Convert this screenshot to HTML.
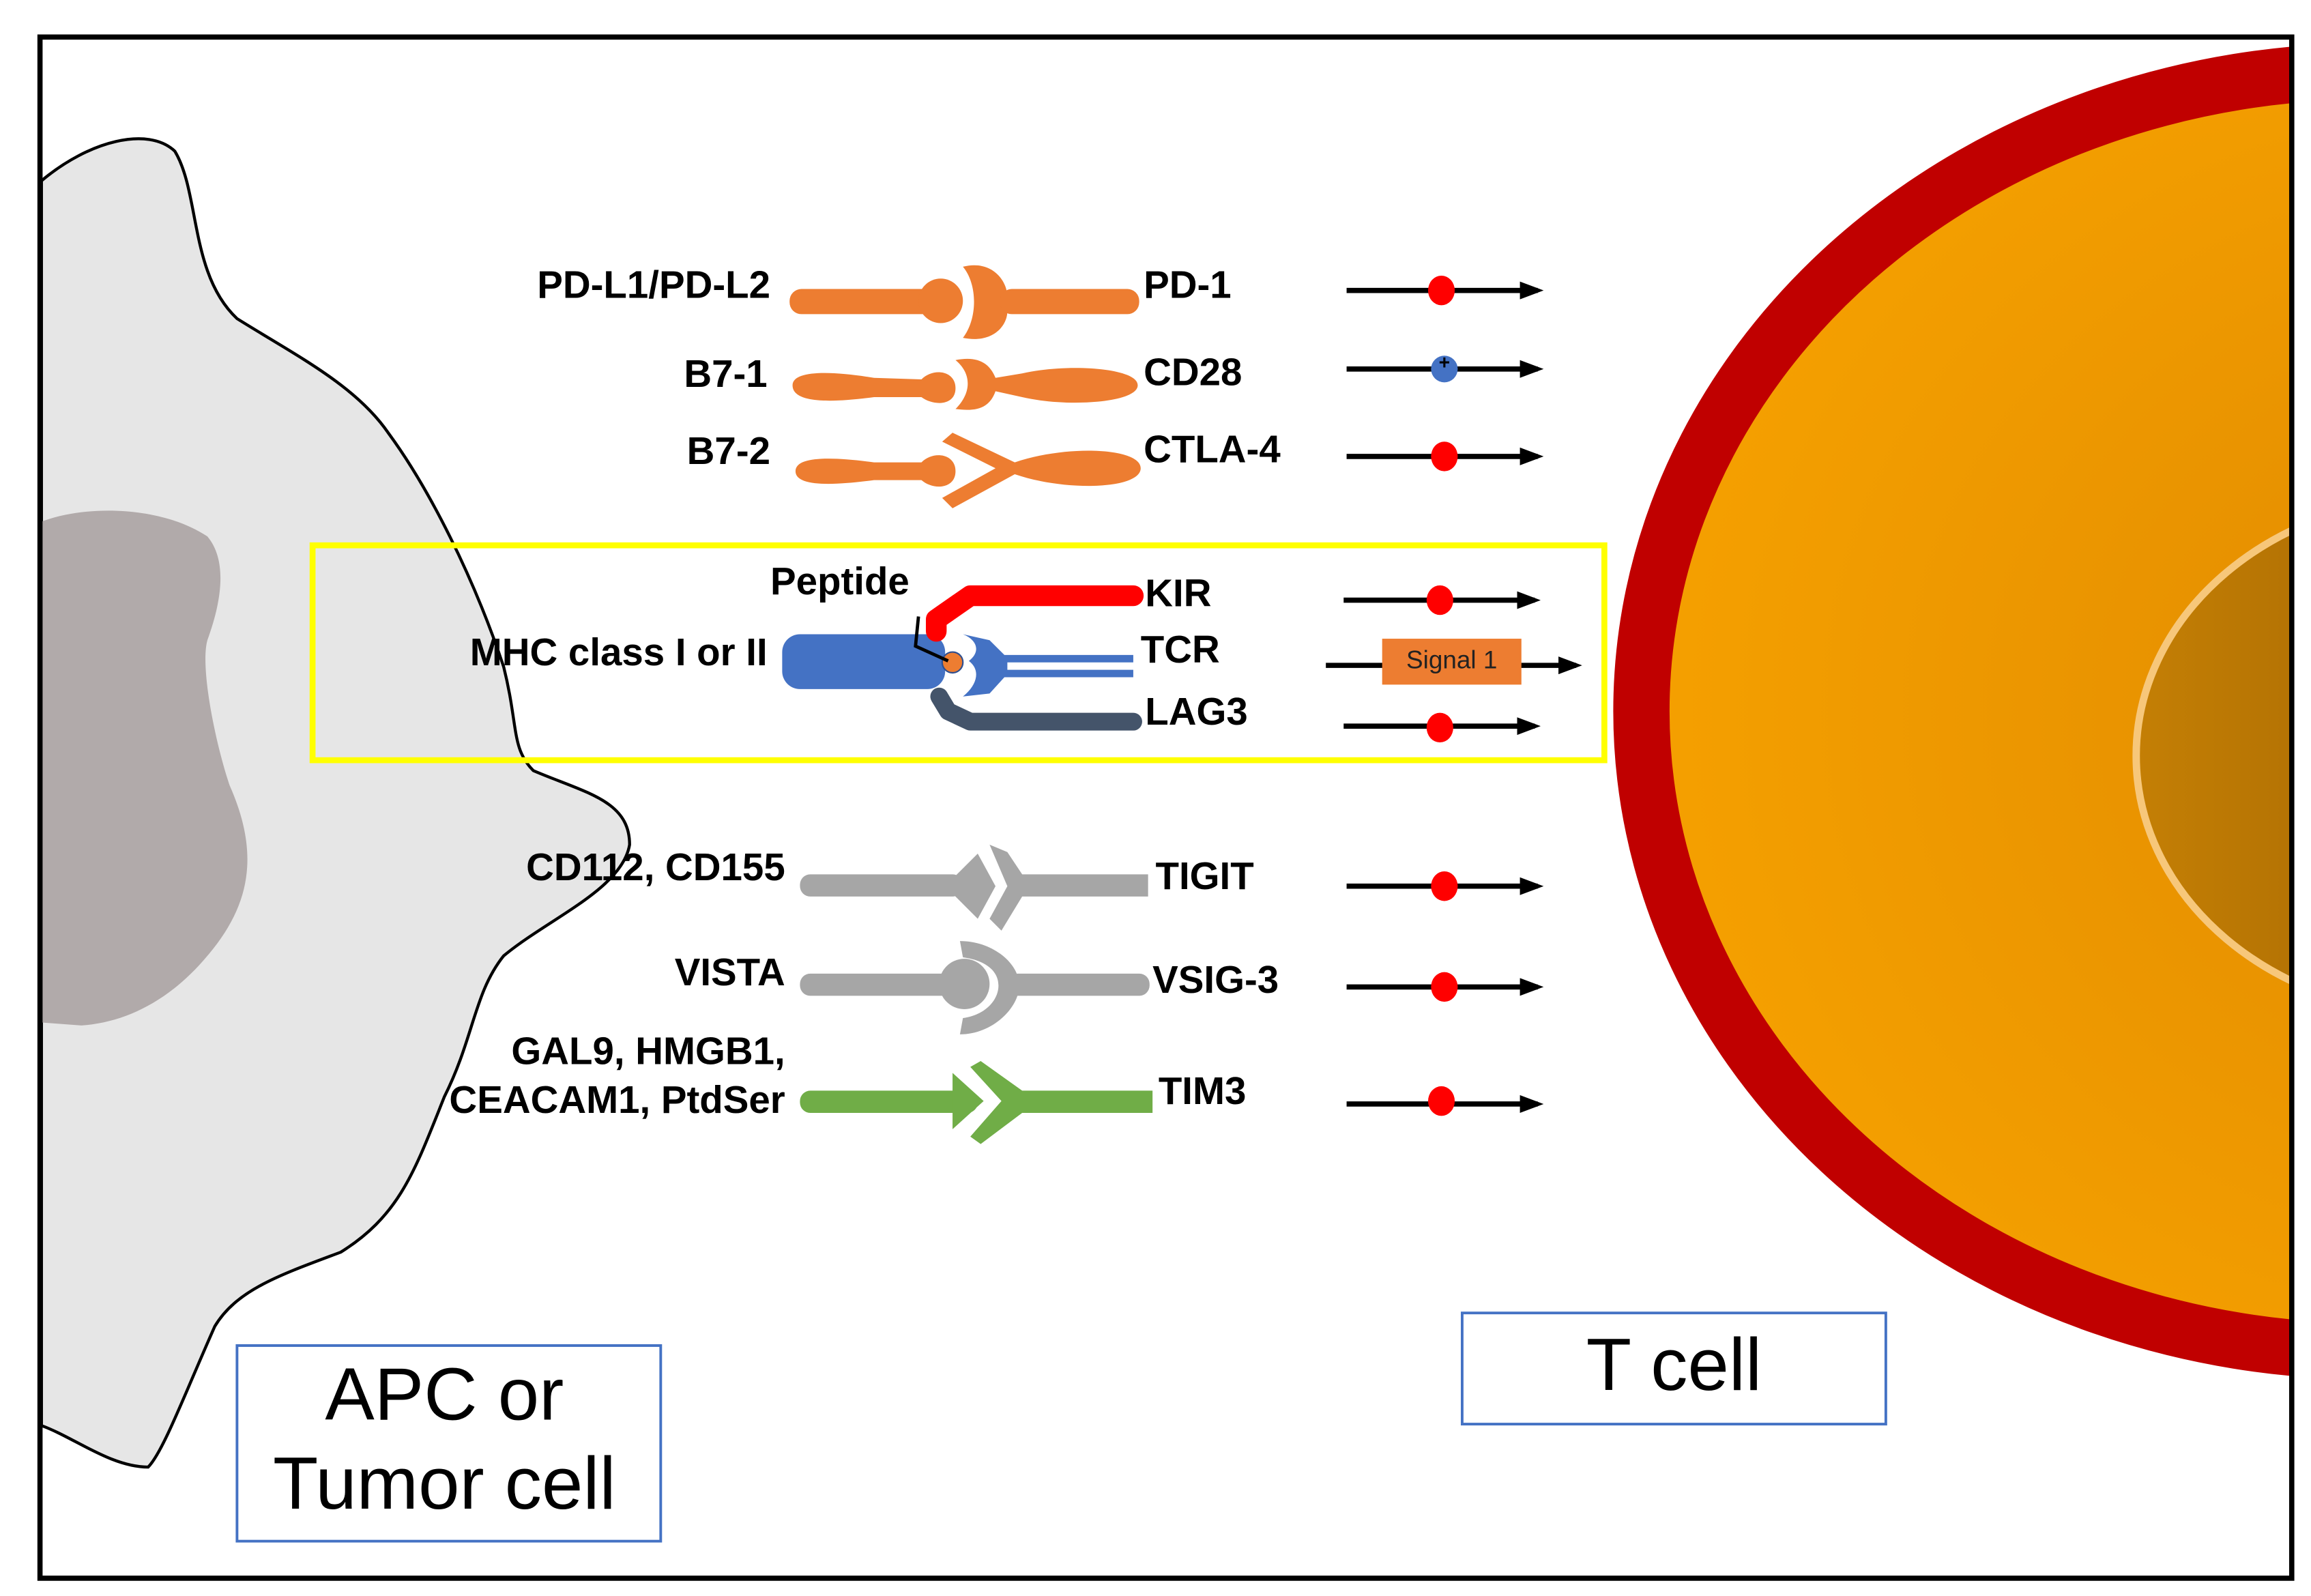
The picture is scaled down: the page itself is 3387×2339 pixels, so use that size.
<!DOCTYPE html>
<html><head><meta charset="utf-8"><style>
html,body{margin:0;padding:0;background:#fff;}
svg{display:block;}
text{font-family:"Liberation Sans",Arial,sans-serif;}
.l{font-weight:bold;font-size:26px;fill:#000;}
</style></head><body>
<svg width="3387" height="2339" viewBox="0 0 1560 1077" preserveAspectRatio="none" xmlns="http://www.w3.org/2000/svg">
<defs>
<radialGradient id="tg" cx="0.6" cy="0.5" r="0.6"><stop offset="0" stop-color="#e08a00"/><stop offset="1" stop-color="#f5a000"/></radialGradient>
<linearGradient id="ng" x1="0" x2="1"><stop offset="0" stop-color="#c47f05"/><stop offset="1" stop-color="#8a5200"/></linearGradient>
<clipPath id="fc"><rect x="27" y="25" width="1520" height="1040"/></clipPath>
<marker id="ah" markerWidth="16" markerHeight="12" refX="12" refY="6" orient="auto" markerUnits="userSpaceOnUse"><path d="M0,0 L16,6 L0,12 Z" fill="#000"/></marker>
</defs>
<rect width="1560" height="1077" fill="#fff"/>
<g clip-path="url(#fc)">
<path d="M28,122 C60,95 100,85 118,102 C135,130 128,185 160,215 C200,240 240,260 262,292 C290,330 320,390 340,450 C350,490 345,505 360,520 C395,535 425,540 425,570 C420,600 370,620 340,645 C320,670 320,700 300,740 C280,790 270,820 230,845 C190,860 160,870 145,895 C125,940 110,980 100,990 C75,990 50,970 28,962 Z" fill="#e6e6e6" stroke="#000" stroke-width="2"/>
<path d="M28,352 C60,340 110,342 140,362 C155,380 148,410 140,432 C135,450 145,500 155,530 C175,575 170,610 140,645 C115,675 85,690 55,692 L28,690 Z" fill="#b1aaaa"/>
<ellipse cx="1600" cy="480" rx="492" ry="432" fill="url(#tg)" stroke="#c00000" stroke-width="38"/>
<ellipse cx="1650" cy="510" rx="208" ry="175" fill="url(#ng)" stroke="#f7c77a" stroke-width="5"/>
</g>
<rect x="27" y="25" width="1520" height="1040" fill="none" stroke="#000" stroke-width="3.5"/>
<rect x="211" y="368" width="872" height="145" fill="none" stroke="#ffff00" stroke-width="4"/>

<g fill="#ed7d31" stroke="none">
<rect x="533" y="195" width="110" height="17" rx="8"/>
<circle cx="635" cy="203" r="15"/>
<path d="M650,180 C670,175 680,190 680,200 L680,210 C680,220 670,232 650,228 C660,215 660,192 650,180 Z"/>
<rect x="675" y="195" width="94" height="17" rx="8"/>
<path d="M535,260 C535,250 560,250 590,255 L622,256 C630,248 645,250 645,262 C645,274 630,274 622,268 L590,268 C560,272 535,272 535,260 Z"/>
<path d="M645,243 C660,240 668,245 672,255 L690,252 C720,245 768,248 768,260 C768,272 720,275 690,268 L672,264 C668,275 660,278 645,276 C656,265 656,252 645,243 Z"/>
<path d="M537,318 C537,308 560,308 590,312 L622,312 C630,304 645,306 645,318 C645,330 630,331 622,324 L590,324 C560,328 537,328 537,318 Z"/>
<path d="M636,298 L643,292 L685,312 C720,300 770,302 770,316 C770,330 720,332 685,320 L643,343 L636,336 L672,316 Z"/>
</g>
<rect x="528" y="428" width="110" height="37" rx="12" fill="#4472c4"/>
<path d="M650,428 L668,432 L678,442 L765,442 L765,447 L680,447 L680,452 L765,452 L765,457 L678,457 L668,468 L650,470 C660,462 662,452 654,446 C662,440 660,432 650,428 Z" fill="#4472c4"/>
<circle cx="643" cy="447" r="7" fill="#ed7d31" stroke="#2f4f8f" stroke-width="1"/>
<path d="M632,426 L632,418 L655,402 L765,402" fill="none" stroke="#ff0000" stroke-width="14" stroke-linecap="round" stroke-linejoin="round"/>
<path d="M634,470 L640,480 L655,487 L765,487" fill="none" stroke="#44546a" stroke-width="12" stroke-linecap="round" stroke-linejoin="round"/>
<path d="M620,416 L618,436 L640,446" fill="none" stroke="#000" stroke-width="2.2"/>

<g fill="#a6a6a6">
<rect x="540" y="590" width="110" height="15" rx="7"/>
<path d="M638,598 L660,576 L672,598 L660,620 Z"/>
<path d="M668,570 L680,575 L690,590 L775,590 L775,605 L690,605 L676,628 L668,620 L680,598 Z"/>
<rect x="540" y="657" width="110" height="15" rx="7"/>
<circle cx="651" cy="664" r="17"/>
<path d="M648,635 C670,635 688,650 688,665 C688,680 670,698 648,698 L650,687 C665,685 674,675 674,665 C674,655 665,648 650,646 Z"/>
<rect x="680" y="657" width="96" height="15" rx="7"/>
</g>
<g fill="#70ad47">
<rect x="540" y="736" width="120" height="15" rx="7"/>
<path d="M643,724 L664,743 L643,762 Z"/>
<path d="M655,720 L662,716 L690,736 L778,736 L778,751 L690,751 L662,772 L655,767 L676,743 Z"/>
</g>

<g stroke="#000" stroke-width="3.5" fill="none" marker-end="url(#ah)">
<line x1="909" y1="196" x2="1038" y2="196"/>
<line x1="909" y1="249" x2="1038" y2="249"/>
<line x1="909" y1="308" x2="1038" y2="308"/>
<line x1="907" y1="405" x2="1036" y2="405"/>
<line x1="895" y1="449" x2="1064" y2="449"/>
<line x1="907" y1="490" x2="1036" y2="490"/>
<line x1="909" y1="598" x2="1038" y2="598"/>
<line x1="909" y1="666" x2="1038" y2="666"/>
<line x1="909" y1="745" x2="1038" y2="745"/>
</g>
<g fill="#ff0000">
<ellipse cx="973" cy="196" rx="9" ry="10"/>
<ellipse cx="975" cy="308" rx="9" ry="10"/>
<ellipse cx="972" cy="405" rx="9" ry="10"/>
<ellipse cx="972" cy="491" rx="9" ry="10"/>
<ellipse cx="975" cy="598" rx="9" ry="10"/>
<ellipse cx="975" cy="666" rx="9" ry="10"/>
<ellipse cx="973" cy="743" rx="9" ry="10"/>
</g>
<ellipse cx="975" cy="249" rx="9" ry="9" fill="#4472c4"/>
<text x="975" y="249" font-size="13" font-weight="bold" text-anchor="middle">+</text>
<rect x="933" y="431" width="94" height="31" fill="#ed7d31"/>
<text x="980" y="451" font-size="17" text-anchor="middle" fill="#222">Signal  1</text>

<g class="l">
<text class="l" x="520" y="201" text-anchor="end">PD-L1/PD-L2</text>
<text class="l" x="518" y="261" text-anchor="end">B7-1</text>
<text class="l" x="520" y="313" text-anchor="end">B7-2</text>
<text class="l" x="772" y="201">PD-1</text>
<text class="l" x="772" y="260">CD28</text>
<text class="l" x="772" y="312">CTLA-4</text>
<text class="l" x="520" y="401">Peptide</text>
<text class="l" x="518" y="449" text-anchor="end">MHC class I or II</text>
<text class="l" x="773" y="409">KIR</text>
<text class="l" x="770" y="447">TCR</text>
<text class="l" x="773" y="489">LAG3</text>
<text class="l" x="530" y="594" text-anchor="end">CD112, CD155</text>
<text class="l" x="530" y="665" text-anchor="end">VISTA</text>
<text class="l" x="530" y="718" text-anchor="end">GAL9, HMGB1,</text>
<text class="l" x="530" y="751" text-anchor="end">CEACAM1, PtdSer</text>
<text class="l" x="780" y="600">TIGIT</text>
<text class="l" x="778" y="670">VSIG-3</text>
<text class="l" x="782" y="745">TIM3</text>
</g>

<rect x="160" y="908" width="286" height="132" fill="#fff" stroke="#4472c4" stroke-width="1.8"/>
<text x="300" y="958" font-size="50" text-anchor="middle">APC or</text>
<text x="300" y="1018" font-size="50" text-anchor="middle">Tumor cell</text>
<rect x="987" y="886" width="286" height="75" fill="#fff" stroke="#4472c4" stroke-width="1.8"/>
<text x="1130" y="938" font-size="50" text-anchor="middle">T cell</text>
</svg>
</body></html>
